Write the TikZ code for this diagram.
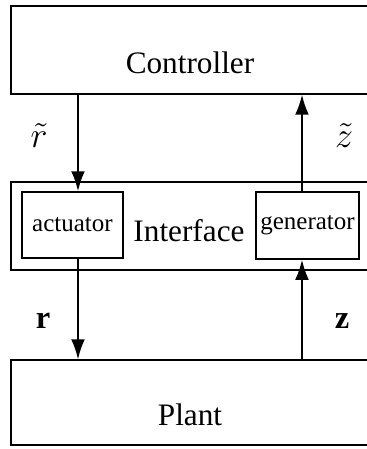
\documentclass[tikz,border=0pt]{standalone}
\usepackage{fontspec}
\setmainfont{Liberation Serif}
\usetikzlibrary{arrows.meta}

\begin{document}
\begin{tikzpicture}[
        x=0.4pt, y=-0.4pt, % пиксели исходной картинки
        block/.style = {draw, line width=0.5pt, inner sep=0pt}, % большие блоки
        unit/.style = {draw, line width=0.6pt, inner sep=0pt, font=\fontsize{10}{12}\selectfont}, % блоки внутри интерфейса
        signal/.style = {line width=0.75pt, -{Latex[length=8pt, width=5.5pt]}},
        lbl/.style = {font=\fontsize{13}{15}\selectfont},
        title/.style = {font=\fontsize{12.5}{14}\selectfont},
    ]
    \useasboundingbox (0,0) rectangle (367,449);

    \node[block, minimum width=144.8pt, minimum height=35.2pt] (controller) at (192,50) {};
    \node[title] (ctrltext) at (190,63) {Controller};

    \node[block, minimum width=144.8pt, minimum height=35.2pt] (interface) at (192,226) {};
    \node[title] (ifacetext) at (189,231) {Interface};

    \node[unit, minimum width=40.4pt, minimum height=26.4pt] (actuator) at (72.5,225) {actuator};
    \node[unit, minimum width=41.2pt, minimum height=26.8pt] (generator) at (307.5,225.5) {generator};

    \node[block, minimum width=144.8pt, minimum height=34pt] (plant) at (192,402.5) {};
    \node[title] (planttext) at (190,415) {Plant};

    % линии сигналов
    \coordinate (rline) at (78,0);
    \coordinate (zline) at (302,0);

    \draw[signal] (controller.south -| rline) -- (actuator.north -| rline);
    \draw[signal] (actuator.south -| rline) -- (plant.north -| rline);
    \draw[signal] (plant.north -| zline) -- (generator.south -| zline);
    \draw[signal] (generator.north -| zline) -- (controller.south -| zline);

    \node[lbl, font=\fontsize{15}{17}\selectfont] (rt) at (39,136) {$\tilde{r}$};
    \node[lbl, font=\fontsize{15}{17}\selectfont] (zt) at (344,136) {$\tilde{z}$};
    \node[lbl] (r) at (43,321) {$\mathbf{r}$};
    \node[lbl] (z) at (342,321) {$\mathbf{z}$};
\end{tikzpicture}
\end{document}
